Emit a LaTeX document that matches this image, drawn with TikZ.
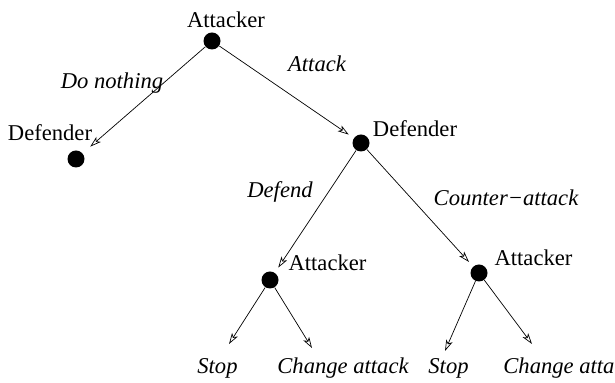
\documentclass[tikz,border=0pt]{standalone}
\usepackage{fontspec}
\setmainfont{Liberation Serif}[ItalicFont={Liberation Serif Italic}]
\usetikzlibrary{arrows.meta, positioning}

\begin{document}
\begin{tikzpicture}[
    x=0.5pt, y=-0.5pt,
    dot/.style={circle, fill=black, inner sep=0pt, minimum size=8.5pt},
    lbl/.style={font=\fontsize{11.3}{13}\selectfont, inner sep=0pt},
    act/.style={font=\fontsize{11.3}{13}\selectfont\itshape, inner sep=0pt},
    arr/.style={-{Stealth[open, length=5.5pt, width=3.4pt, inset=1.4pt]}, line width=0.35pt, shorten >=3pt}
]
\useasboundingbox (0,0) rectangle (615,383);

% players
\node[dot] (root) at (212,41) {};
\node[dot] (defl) at (76,159) {};
\node[dot] (defm) at (361,143) {};
\node[dot] (attl) at (270,280) {};
\node[dot] (attr) at (479,273) {};

\node[lbl] (rootlbl) at (226,20) {Attacker};
\node[lbl] (defllbl) at (50,133) {Defender};
\node[lbl] (defmlbl) at (415,129) {Defender};
\node[lbl] (attllbl) at (327.5,263) {Attacker};
\node[lbl] (attrlbl) at (533.5,258) {Attacker};

% leaf ends
\coordinate (l1) at (229,344);
\coordinate (l2) at (312,348);
\coordinate (l3) at (445,351);
\coordinate (l4) at (532,344);

% moves
\draw[arr, shorten >=5pt] (root) -- (defl);
\draw[arr] (root) -- (defm);
\draw[arr] (defm) -- (attl);
\draw[arr] (defm) -- (attr);
\draw[arr, shorten >=0pt] (attl) -- (l1);
\draw[arr, shorten >=0pt] (attl) -- (l2);
\draw[arr, shorten >=0pt] (attr) -- (l3);
\draw[arr, shorten >=0pt] (attr) -- (l4);

\node[act] (donothing) at (112,83) {Do nothing};
\node[act] (attack) at (317,64) {Attack};
\node[act] (defend) at (280,192) {Defend};
\node[act] (counter) at (506,198) {Counter−attack};
\node[act] (stop1) at (217.5,368) {Stop};
\node[act] (change1) at (343,368) {Change attack};
\node[act] (stop2) at (448.5,368) {Stop};
\node[act, anchor=west] (change2) at (503,368) {Change attack};
\end{tikzpicture}
\end{document}
